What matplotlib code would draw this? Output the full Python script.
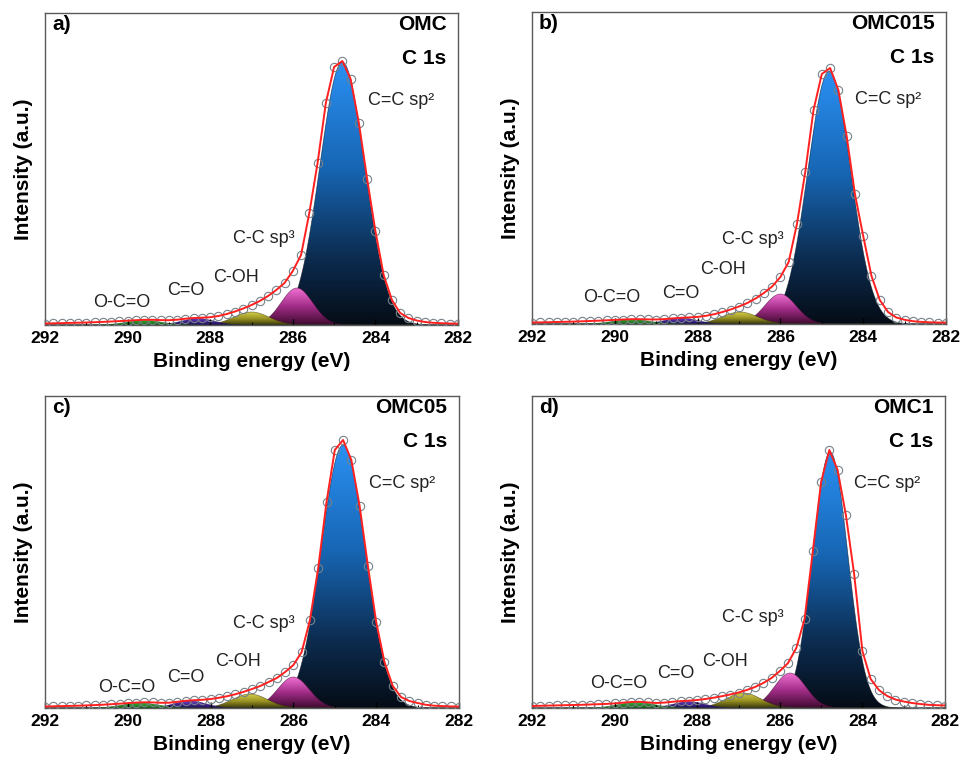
import numpy as np
import matplotlib
matplotlib.use("Agg")
import matplotlib.pyplot as plt
from matplotlib.colors import LinearSegmentedColormap

plt.rcParams['font.family'] = ['Liberation Sans', 'DejaVu Sans']

# binding energy of the measured points (eV), 292 -> 282 in 0.2 eV steps
energy = np.round(np.arange(292.0, 281.95, -0.2), 1)

samples = ["OMC", "OMC015", "OMC05", "OMC1"]
letters = ["a)", "b)", "c)", "d)"]

# measured C 1s spectra (a.u.), one value per energy point
omc = [1.5, 1.7, 1.9, 2.1, 2.3, 2.5, 2.8, 3.1, 3.5, 3.9,
       4.3, 4.8, 5.2, 5.2, 4.9, 4.8, 5.3, 6.3, 7.0, 7.3,
       7.8, 9.0, 11.0, 13.5, 16.5, 20, 24, 29, 35, 42,
       54, 70, 112, 162, 222, 258, 264, 246, 202, 146,
       94, 50, 25, 12, 7, 4.5, 3, 2.2, 1.8, 1.5, 1.3]
omc015 = [1.5, 1.6, 1.8, 2.0, 2.2, 2.4, 2.7, 3.0, 3.3, 3.7,
          4.1, 4.5, 4.8, 4.8, 4.6, 4.5, 4.9, 5.6, 6.2, 6.6,
          7.1, 8.2, 9.8, 12, 14.5, 17.5, 21, 25.5, 31, 37.5,
          47, 62, 100, 152, 214, 250, 256, 234, 188, 130,
          88, 48, 24, 12, 6.5, 4.2, 2.8, 2.1, 1.7, 1.5, 1.3]
omc05 = [1.5, 1.7, 1.9, 2.1, 2.3, 2.6, 2.9, 3.3, 3.8, 4.3,
         4.9, 5.4, 5.7, 5.6, 5.2, 5.3, 6.2, 7.2, 7.8, 8.2,
         9.0, 10.2, 11.8, 13.8, 16.2, 19.0, 22, 26, 30, 36,
         43, 56, 88, 140, 206, 258, 268, 248, 202, 142,
         86, 46, 22, 11, 7, 5, 3.2, 2.3, 1.9, 1.6, 1.4]
omc1 = [2.0, 2.2, 2.4, 2.6, 2.8, 3.0, 3.2, 3.5, 3.8, 4.1,
        4.6, 5.3, 6.0, 6.2, 5.6, 5.0, 5.4, 6.2, 6.9, 7.3,
        8.0, 9.0, 10.3, 11.8, 13.5, 15.5, 18, 21, 25, 30,
        37, 45, 60, 89, 157, 226, 258, 238, 193, 134,
        57, 29, 18, 12, 8.5, 6.5, 5, 4, 3.2, 2.8, 2.5]
spectra = [omc, omc015, omc05, omc1]

# fitted components, order: C=C sp2, C-C sp3, C-OH, C=O, O-C=O
comp_names = ["C=C sp²", "C-C sp³", "C-OH", "C=O", "O-C=O"]
omc_center = [284.80, 285.90, 287.00, 288.30, 289.60]
omc_height = [263, 37, 13, 6.5, 4.5]
omc_fwhm = [1.28, 0.9, 1.0, 0.9, 1.0]
omc015_center = [284.82, 286.00, 286.98, 288.40, 289.60]
omc015_height = [253, 30, 12, 6, 4.5]
omc015_fwhm = [1.22, 0.9, 1.0, 0.9, 1.0]
omc05_center = [284.80, 286.00, 287.05, 288.50, 289.70]
omc05_height = [263, 31, 14, 7, 5]
omc05_fwhm = [1.25, 0.9, 1.0, 0.9, 1.0]
omc1_center = [284.78, 285.75, 286.88, 288.20, 289.47]
omc1_height = [256, 35, 15, 6.3, 5.7]
omc1_fwhm = [1.0, 0.9, 1.0, 0.9, 1.0]
centers = [omc_center, omc015_center, omc05_center, omc1_center]
heights = [omc_height, omc015_height, omc05_height, omc1_height]
fwhms = [omc_fwhm, omc015_fwhm, omc05_fwhm, omc1_fwhm]

# gradient colours (bottom -> top) for each component
comp_colors = [[(0.0, "#050c16"), (0.25, "#0c2b4e"), (0.6, "#1766b4"), (1.0, "#2a90f2")],
               [(0.0, "#3e0a2e"), (0.5, "#a02c86"), (1.0, "#f070d2")],
               [(0.0, "#3a360a"), (0.5, "#9a9424"), (1.0, "#d4cc48")],
               [(0.0, "#1c0a50"), (1.0, "#6a40cc")],
               [(0.0, "#125a12"), (1.0, "#38b838")]]

# where the peak names go, (energy, height) per panel
label_pos = [
    [(284.18, 225), (287.45, 87), (287.93, 48), (289.05, 35), (290.84, 23)],
    [(284.20, 224), (287.40, 84), (287.94, 54), (288.86, 31), (290.77, 26)],
    [(284.18, 225), (287.45, 85), (287.88, 46), (289.05, 30), (290.72, 20)],
    [(284.20, 225), (287.39, 90), (287.87, 46), (288.98, 35), (290.60, 25)],
]

axes_rect = [[45/961, 1-325/762, 413/961, 312/762],
             [532/961, 1-324/762, 414/961, 312/762],
             [45/961, 1-708/762, 414/961, 312/762],
             [532/961, 1-708/762, 413/961, 312/762]]


def gauss(x, c, h, w):
    s = w / 2.3548
    return h * np.exp(-(x - c)**2 / (2 * s**2))


def grad_fill(ax, x, y, cols, z):
    poly, = ax.fill(np.r_[x, x[::-1]], np.r_[y, np.zeros_like(y)],
                    facecolor='none', edgecolor='none', zorder=z)
    cmap = LinearSegmentedColormap.from_list('g', cols)
    grad = np.linspace(0, 1, 256).reshape(-1, 1)
    im = ax.imshow(grad, cmap=cmap, aspect='auto', origin='lower',
                   extent=[x[0], x[-1], 0, y.max()], zorder=z, interpolation='bilinear')
    im.set_clip_path(poly)
    ax.plot(x, y, color=cols[0][1], lw=0.5, alpha=0.6, zorder=z)


fig = plt.figure(figsize=(9.61, 7.62), dpi=100)
xf = np.linspace(292, 282, 800)

for i in range(4):
    ax = fig.add_axes(axes_rect[i])
    for k in range(5):
        yk = gauss(xf, centers[i][k], heights[i][k], fwhms[i][k])
        grad_fill(ax, xf, yk, comp_colors[k], 1 + 0.1 * k)
    ax.plot(energy, spectra[i], 'o', ms=6, mfc='none', mec='#76828a', mew=0.8, zorder=3)
    ax.plot(energy, spectra[i], color='#ff2020', lw=1.4, zorder=4)

    for k in range(5):
        ax.text(label_pos[i][k][0], label_pos[i][k][1], comp_names[k],
                fontsize=13, ha='left', va='center', color='#222222', zorder=5)

    ax.text(0.017, 0.962, letters[i], transform=ax.transAxes, fontsize=15,
            fontweight='bold', ha='left', va='center')
    ax.text(0.972, 0.962, samples[i], transform=ax.transAxes, fontsize=15,
            fontweight='bold', ha='right', va='center')
    ax.text(0.972, 0.855, "C 1s", transform=ax.transAxes, fontsize=15,
            fontweight='bold', ha='right', va='center')

    ax.set_xlim(292, 282)
    ax.set_ylim(0, 312)
    ax.set_yticks([])
    ax.set_xticks([292, 290, 288, 286, 284, 282])
    ax.set_xticks([291, 289, 287, 285, 283], minor=True)
    ax.tick_params(axis='x', which='major', direction='in', length=4, width=1,
                   pad=4, labelsize=12.5)
    ax.tick_params(axis='x', which='minor', direction='in', length=2.5, width=0.8)
    for lbl in ax.get_xticklabels():
        lbl.set_fontweight('bold')
    for sp in ax.spines.values():
        sp.set_color('#5a5a5a')
        sp.set_linewidth(1.0)
    ax.set_xlabel("Binding energy (eV)", fontsize=15, fontweight='bold')
    ax.xaxis.set_label_coords(0.5, -0.085)
    ax.set_ylabel("Intensity (a.u.)", fontsize=15, fontweight='bold')
    ax.yaxis.set_label_coords(-0.03, 0.5)

fig.savefig("out.png", dpi=100, facecolor='white')
